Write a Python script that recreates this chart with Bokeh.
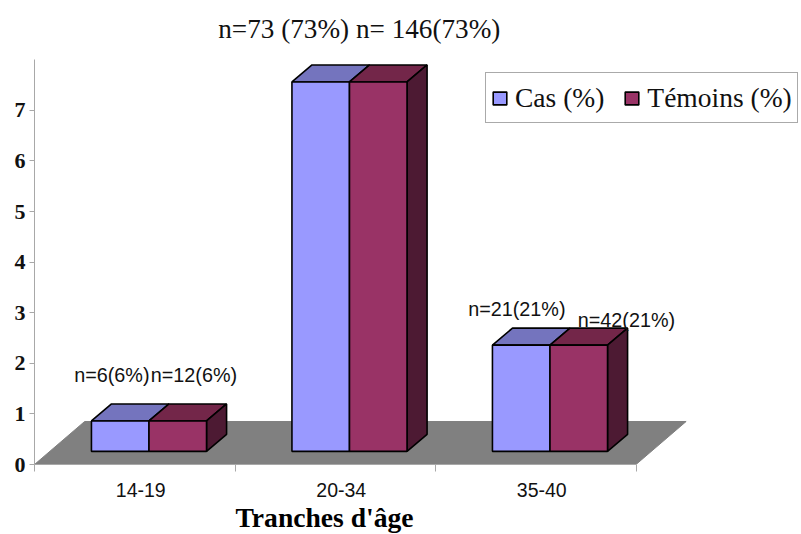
from bokeh.plotting import figure
from bokeh.models import FixedTicker, Legend, LegendItem, Range1d, Title
from bokeh.core.properties import value
from bokeh.embed import file_html
from bokeh.resources import INLINE

categories = ["14-19", "20-34", "35-40"]
cas = [0.6, 7.3, 2.1]
temoins = [0.6, 7.3, 2.1]
labels_cas = ["n=6(6%)", None, "n=21(21%)"]
labels_temoins = ["n=12(6%)", None, "n=42(21%)"]
title_text = "n=73 (73%) n= 146(73%)"
x_title = "Tranches d'âge"
series_names = ["Cas (%)", "Témoins (%)"]
y_ticks = [0, 1, 2, 3, 4, 5, 6, 7, 8]

# geometry of the oblique projection, in axis units
BASE = 0.26
DX, DY = 0.1, 0.336
FDX, FDY = 0.25, 0.85
LEFT, W = 0.284, 0.287

p = figure(width=800, height=534, output_backend="svg", toolbar_location=None,
           x_range=Range1d(0, 766 / 200.5), y_range=Range1d(0, 454 / 50.6),
           min_border_left=34, min_border_right=0, min_border_top=10, min_border_bottom=70)
p.outline_line_color = None
p.grid.visible = False
p.background_fill_color = "white"

n = len(categories)
xs = list(range(n))

# floor
p.patch([0, n, n + FDX, FDX], [0, 0, FDY, FDY], fill_color="#808080", line_color="#808080", line_width=1)

COL_A, TOP_A = "#9999FF", "#7474BE"
COL_B, TOP_B, SIDE_B = "#993366", "#732649", "#4D1A33"
LW = 1.6

for i in xs:
    a0, a1, b1 = i + LEFT, i + LEFT + W, i + LEFT + 2 * W
    top_a, top_b = BASE + cas[i], BASE + temoins[i]
    p.patch([a0, a1, a1 + DX, a0 + DX], [top_a, top_a, top_a + DY, top_a + DY],
            fill_color=TOP_A, line_color="black", line_width=LW)
    p.patch([a1, b1, b1 + DX, a1 + DX], [top_b, top_b, top_b + DY, top_b + DY],
            fill_color=TOP_B, line_color="black", line_width=LW)
    p.patch([b1, b1 + DX, b1 + DX, b1], [BASE, BASE + DY, top_b + DY, top_b],
            fill_color=SIDE_B, line_color="black", line_width=LW)

centres_a = [i + LEFT + W / 2 for i in xs]
centres_b = [i + LEFT + 3 * W / 2 for i in xs]
ra = p.vbar(x=centres_a, width=W, bottom=BASE, top=[BASE + v for v in cas],
            fill_color=COL_A, line_color="black", line_width=LW)
rb = p.vbar(x=centres_b, width=W, bottom=BASE, top=[BASE + v for v in temoins],
            fill_color=COL_B, line_color="black", line_width=LW)

# data labels
font = value("Liberation Sans")
lx, ly, lt, lo, lv = [], [], [], [], []
offs_a = {0: (-46, 37), 2: (-53, 27)}
offs_b = {0: (-27, 37), 2: (-1, 16)}
for i in xs:
    if labels_cas[i]:
        lx.append(centres_a[i]); ly.append(BASE + cas[i]); lt.append(labels_cas[i])
        lo.append(offs_a[i][0]); lv.append(-offs_a[i][1] - 9)
    if labels_temoins[i]:
        lx.append(centres_b[i]); ly.append(BASE + temoins[i]); lt.append(labels_temoins[i])
        lo.append(offs_b[i][0]); lv.append(-offs_b[i][1] - 9)
p.text(x=lx, y=ly, text=lt, x_offset=lo, y_offset=lv, text_font=font, text_font_size="19.8px",
       text_color="#111111", text_align="left", text_baseline="middle")

# heading
p.text(x=[1.62], y=[8.6], text=[title_text], text_font=value("Liberation Serif"),
       text_font_size="27.2px", text_color="#111111", text_align="center", text_baseline="middle")

# axes
p.yaxis.ticker = FixedTicker(ticks=y_ticks[:-1], minor_ticks=[])
p.yaxis.bounds = (0, 8)
p.yaxis.axis_line_color = "#a8a8a8"
p.yaxis.major_tick_line_color = "#a8a8a8"
p.yaxis.major_tick_out = 5
p.yaxis.major_tick_in = 0
p.yaxis.major_label_standoff = 4
p.yaxis.major_label_text_font = "Liberation Serif"
p.yaxis.major_label_text_font_style = "bold"
p.yaxis.major_label_text_font_size = "22px"
p.yaxis.major_label_text_color = "#111111"

p.xaxis.ticker = FixedTicker(ticks=[i + 0.53 for i in xs], minor_ticks=list(range(n + 1)))
p.xaxis.major_label_overrides = {i + 0.53: c for i, c in zip(xs, categories)}
p.xaxis.bounds = (0, n)
p.xaxis.axis_line_color = "#a8a8a8"
p.xaxis.major_tick_line_color = None
p.xaxis.minor_tick_line_color = "#a8a8a8"
p.xaxis.minor_tick_out = 7
p.xaxis.minor_tick_in = 0
p.xaxis.major_label_standoff = 11
p.xaxis.major_label_text_font = "Liberation Sans"
p.xaxis.major_label_text_font_size = "19.5px"
p.xaxis.major_label_text_color = "#111111"

p.add_layout(Title(text=x_title, align="left", offset=201, standoff=1,
                   text_font="Liberation Serif", text_font_style="bold", text_font_size="27.6px",
                   text_color="black"), "below")

legend = Legend(items=[LegendItem(label=series_names[0], renderers=[ra]),
                       LegendItem(label=series_names[1], renderers=[rb])],
                location=(451, 341), orientation="horizontal",
                label_text_font="Liberation Serif", label_text_font_size="27.5px",
                label_text_color="#111111", glyph_width=17, glyph_height=16,
                label_standoff=7, spacing=19, padding=5, margin=0, label_height=39,
                border_line_color="#555555", border_line_width=1,
                background_fill_color="white", background_fill_alpha=1)
p.add_layout(legend)

open("out.html", "w").write(file_html(p, INLINE))
